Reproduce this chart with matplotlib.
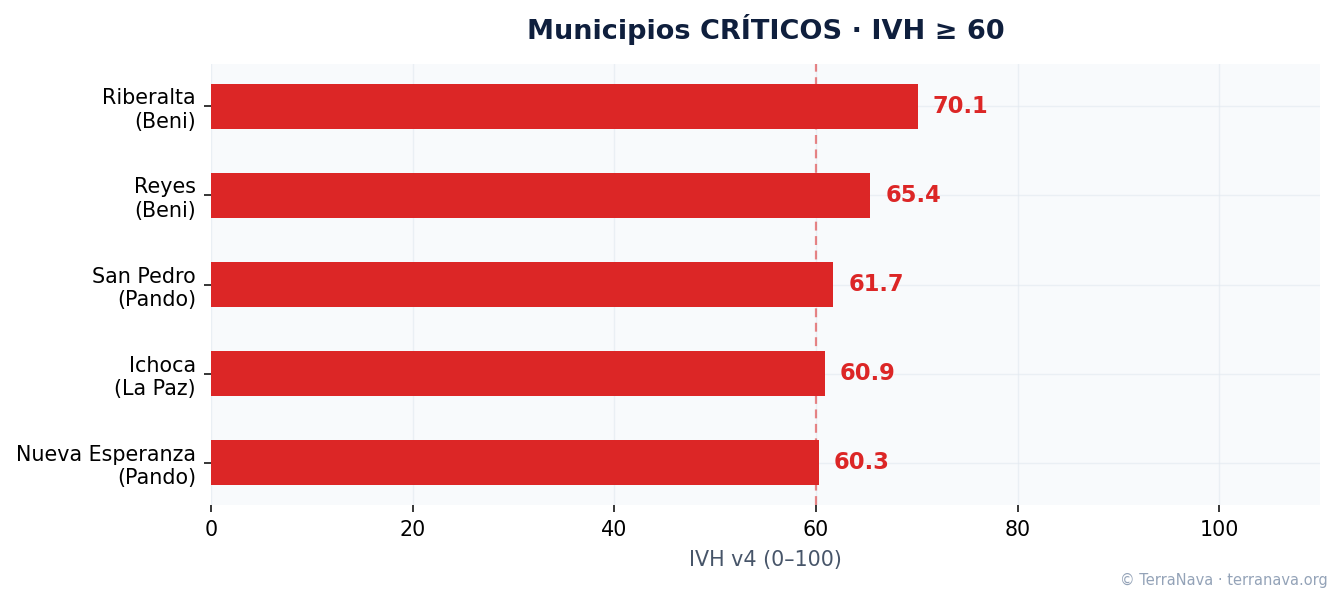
import matplotlib
matplotlib.use("Agg")
import matplotlib.pyplot as plt

# Data
municipios = ["Riberalta\n(Beni)", "Reyes\n(Beni)", "San Pedro\n(Pando)",
              "Ichoca\n(La Paz)", "Nueva Esperanza\n(Pando)"]
ivh = [70.1, 65.4, 61.7, 60.9, 60.3]
umbral = 60

red = "#dc2626"

fig = plt.figure(figsize=(13.43, 6.01), dpi=100)
ax = fig.add_axes([0.1571, 0.1597, 0.8258, 0.7338])
ax.set_facecolor("#f8fafc")

# bars from top to bottom
ypos = list(range(len(municipios)))[::-1]
ax.barh(ypos, ivh, height=0.5, color=red, zorder=3)

for y, v in zip(ypos, ivh):
    ax.text(v + 1.5, y, f"{v:.1f}", va="center", ha="left",
            color=red, fontsize=16.3, fontweight="bold", zorder=4)

ax.axvline(umbral, color=red, alpha=0.55, linestyle="--", linewidth=1.6,
           dashes=(4, 2.5), zorder=2)

ax.set_yticks(ypos)
ax.set_yticklabels(municipios, fontsize=14.9)
ax.set_xlim(0, 110)
ax.set_xticks([0, 20, 40, 60, 80, 100])
ax.tick_params(axis="x", labelsize=14.9)
ax.tick_params(length=5.2, width=1.1, pad=5.5)
ax.grid(True, color="#e2e8f0", alpha=0.6, linewidth=1.0, zorder=0)

for s in ax.spines.values():
    s.set_visible(False)

ax.set_xlabel("IVH v4 (0–100)", fontsize=14.9, color="#475569", labelpad=7)
ax.set_title("Municipios CRÍTICOS · IVH ≥ 60", fontsize=19.5, fontweight="bold",
             color="#0f1f3d", pad=18)

fig.text(0.989, 0.022, "© TerraNava · terranava.org", ha="right", va="bottom",
         fontsize=10.5, color="#94a3b8")

fig.savefig("out.png", dpi=100)
